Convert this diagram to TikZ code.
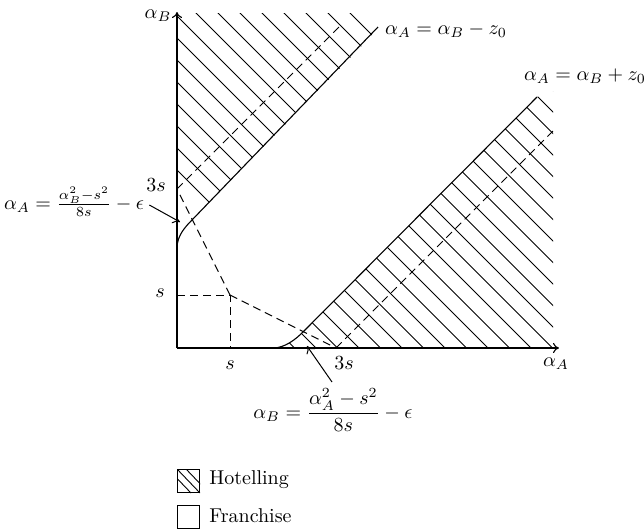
\documentclass[tikz,border=0pt]{standalone}
\usetikzlibrary{arrows.meta}
\begin{document}
\begin{tikzpicture}[x=0.5pt,y=-0.5pt,
  axis/.style={line width=0.55pt,-{To[length=3pt,width=5pt]}},
  solid line/.style={line width=0.55pt},
  dsh/.style={line width=0.5pt,dash pattern=on 4pt off 2.5pt},
  hatch/.style={line width=0.45pt},
  ptr/.style={line width=0.5pt,-{To[length=3.5pt,width=5pt]}},
  lbl/.style={inner sep=1pt},
  legbox/.style={draw,line width=0.5pt,minimum width=11pt,minimum height=11.5pt,inner sep=0pt}]
\useasboundingbox (0,0) rectangle (644,531);

% key points
\coordinate (O) at (177,348);
\coordinate (ytop) at (177,12);
\coordinate (xend) at (559,348);
\coordinate (ss) at (230,295);
\coordinate (sy) at (177,295);
\coordinate (sx) at (230,348);
\coordinate (ty) at (177,189);
\coordinate (tx) at (336,348);
\coordinate (uc0) at (177,248);
\coordinate (uc1) at (192,220);
\coordinate (uend) at (378,27);
\coordinate (lc0) at (273,348);
\coordinate (lc1) at (303,332);
\coordinate (lend) at (537,97);

% hatching upper region
\begin{scope}
  \clip (177,13) -- (366,13) -- (380,27) -- (uc1) .. controls (185,227) and (177,236) .. (uc0) -- cycle;
  \foreach \k in {-11,...,6}
    \draw[hatch] (0,{-139+22*\k}) -- (700,{700-139+22*\k});
\end{scope}
% hatching lower region
\begin{scope}
  \clip (lc0) .. controls (285,348) and (296,339) .. (lc1) -- (lend) -- (553,91) -- (553,348) -- cycle;
  \foreach \k in {-19,...,6}
    \draw[hatch] (0,{-54+21.5*\k}) -- (700,{700-54+21.5*\k});
\end{scope}

% dashed construction lines
\draw[dsh] (sy) -- (ss) -- (sx);
\draw[dsh] (ss) -- (ty);
\draw[dsh] (ss) -- (tx);
\draw[dsh] (ty) -- (342,24);
\draw[dsh] (tx) -- (553,131);

% boundaries
\draw[solid line] (uc0) .. controls (177,236) and (185,227) .. (uc1) -- (uend);
\draw[solid line] (lc0) .. controls (285,348) and (296,339) .. (lc1) -- (lend);

% axes
\draw[axis] (O) -- (ytop);
\draw[axis] (O) -- (xend);

% axis labels
\node[lbl] (aB) at (158,16) {$\alpha_B$};
\node[lbl] (aA) at (556,364) {$\alpha_A$};
\node[lbl] (l3sy) at (156,185) {$3s$};
\node[lbl] (lsy) at (160,293) {$s$};
\node[lbl] (lsx) at (230,365) {$s$};
\node[lbl] (l3sx) at (344,363) {$3s$};

% line labels
\node[lbl] (eqU) at (446,30) {$\alpha_A = \alpha_B - z_0$};
\node[lbl] (eqL) at (585,76) {$\alpha_A = \alpha_B + z_0$};
\node[lbl] (eqLeft) at (74,202) {$\alpha_A = \frac{\alpha_B^2 - s^2}{8s} - \epsilon$};
\node[lbl] (eqBot) at (333,410) {$\displaystyle\alpha_B = \frac{\alpha_A^2 - s^2}{8s} - \epsilon$};

% pointers
\coordinate (pU) at (180,222);
\coordinate (pL) at (307,346);
\draw[ptr] (eqLeft.east) ++(3,3) coordinate (pUs) (pUs) -- (pU);
\coordinate (pLs) at (332,382);
\draw[ptr] (pLs) -- (pL);

% legend
\node[legbox,anchor=north west] (hb) at (177,469) {};
\begin{scope}
  \clip (hb.north west) rectangle (hb.south east);
  \draw[hatch] (hb.north west) -- (hb.south east);
  \draw[hatch] ([xshift=4.5pt]hb.north west) -- ([xshift=4.5pt]hb.south east);
  \draw[hatch] ([xshift=-4.5pt]hb.north west) -- ([xshift=-4.5pt]hb.south east);
\end{scope}
\node[legbox,anchor=north west] (fb) at (177,505) {};
\node[lbl,anchor=west] (ht) at (207,480) {Hotelling};
\node[lbl,anchor=west] (ft) at (207,516) {Franchise};
\end{tikzpicture}
\end{document}
